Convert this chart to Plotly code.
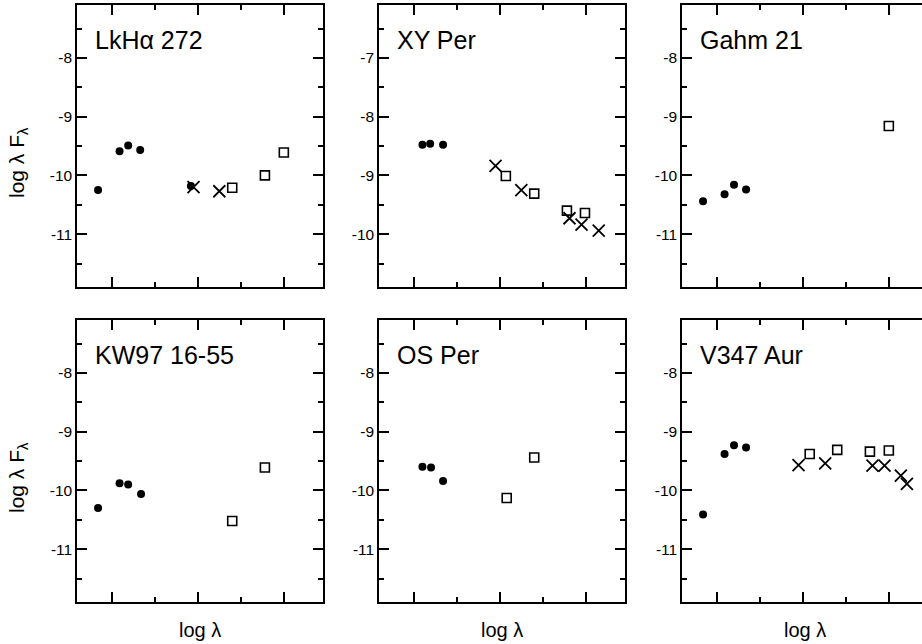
import plotly.graph_objects as go

W, H = 922, 644
FONT = "Liberation Sans, Arial, Helvetica, sans-serif"

# ---- spectral energy distributions (log lambda [um], log lambda F_lambda) ----
# LkHα 272
lkha_dot_x = [-0.16, 0.09, 0.19, 0.33, 0.92]
lkha_dot_y = [-10.25, -9.59, -9.49, -9.57, -10.18]
lkha_cross_x = [0.95, 1.25]
lkha_cross_y = [-10.20, -10.27]
lkha_sq_x = [1.40, 1.78, 2.00]
lkha_sq_y = [-10.21, -10.00, -9.61]

# XY Per
xyper_dot_x = [0.10, 0.19, 0.34]
xyper_dot_y = [-8.48, -8.46, -8.48]
xyper_cross_x = [0.95, 1.25, 1.81, 1.95, 2.15]
xyper_cross_y = [-8.84, -9.25, -9.73, -9.84, -9.94]
xyper_sq_x = [1.07, 1.40, 1.78, 1.99]
xyper_sq_y = [-9.01, -9.31, -9.60, -9.64]

# Gahm 21
gahm_dot_x = [-0.16, 0.09, 0.20, 0.34]
gahm_dot_y = [-10.44, -10.32, -10.16, -10.24]
gahm_sq_x = [2.00]
gahm_sq_y = [-9.16]

# KW97 16-55
kw97_dot_x = [-0.16, 0.09, 0.19, 0.34]
kw97_dot_y = [-10.30, -9.88, -9.90, -10.06]
kw97_sq_x = [1.40, 1.78]
kw97_sq_y = [-10.52, -9.61]

# OS Per
osper_dot_x = [0.10, 0.20, 0.34]
osper_dot_y = [-9.60, -9.61, -9.84]
osper_sq_x = [1.08, 1.40]
osper_sq_y = [-10.13, -9.44]

# V347 Aur
v347_dot_x = [-0.16, 0.09, 0.20, 0.34]
v347_dot_y = [-10.41, -9.38, -9.23, -9.27]
v347_cross_x = [0.95, 1.26, 1.81, 1.95, 2.14, 2.21]
v347_cross_y = [-9.57, -9.54, -9.58, -9.58, -9.75, -9.89]
v347_sq_x = [1.08, 1.40, 1.78, 2.00]
v347_sq_y = [-9.38, -9.31, -9.34, -9.32]

panel_names = ["LkHα 272", "XY Per", "Gahm 21", "KW97 16-55", "OS Per", "V347 Aur"]

# y tick labels per panel
yticks_default = [-11, -10, -9, -8]
yticklabels_default = ["-11", "-10", "-9", "-8"]
yticks_xyper = [-10, -9, -8, -7]
yticklabels_xyper = ["-10", "-9", "-8", "-7"]

x_title = "log λ"
y_title = "log λ F<sub>λ</sub>"

panels = [
    (lkha_dot_x, lkha_dot_y, lkha_cross_x, lkha_cross_y, lkha_sq_x, lkha_sq_y),
    (xyper_dot_x, xyper_dot_y, xyper_cross_x, xyper_cross_y, xyper_sq_x, xyper_sq_y),
    (gahm_dot_x, gahm_dot_y, [], [], gahm_sq_x, gahm_sq_y),
    (kw97_dot_x, kw97_dot_y, [], [], kw97_sq_x, kw97_sq_y),
    (osper_dot_x, osper_dot_y, [], [], osper_sq_x, osper_sq_y),
    (v347_dot_x, v347_dot_y, v347_cross_x, v347_cross_y, v347_sq_x, v347_sq_y),
]

# panel frames in pixels
col_px = [(77, 323), (379, 625), (682, 922)]
row_px = [(5, 287), (320, 602)]
x_unit = 86.0  # pixels per unit of log lambda
x_lo = -0.405

fig = go.Figure()

for i, (dx, dy, cx, cy, sx, sy) in enumerate(panels):
    n = "" if i == 0 else str(i + 1)
    xa, ya = "x" + n, "y" + n
    fig.add_trace(go.Scatter(x=dx, y=dy, mode="markers", xaxis=xa, yaxis=ya,
                             marker=dict(symbol="circle", size=8, color="black"),
                             showlegend=False))
    if cx:
        fig.add_trace(go.Scatter(x=cx, y=cy, mode="markers", xaxis=xa, yaxis=ya,
                                 marker=dict(symbol="x-thin-open", size=12, color="black",
                                             line=dict(color="black", width=1.8)),
                                 showlegend=False))
    fig.add_trace(go.Scatter(x=sx, y=sy, mode="markers", xaxis=xa, yaxis=ya,
                             marker=dict(symbol="square-open", size=9, color="black",
                                         line=dict(color="black", width=1.6)),
                             showlegend=False))

    r, c = divmod(i, 3)
    x0, x1 = col_px[c]
    y0, y1 = row_px[r]
    x_hi = x_lo + (x1 - x0) / x_unit
    if i == 1:
        yr, tv, tt = [-10.9, -6.1], yticks_xyper, yticklabels_xyper
    else:
        yr, tv, tt = [-11.9, -7.1], yticks_default, yticklabels_default

    axis_common = dict(showgrid=False, zeroline=False, showline=True,
                       linecolor="black", linewidth=1.5,
                       ticks="inside", ticklen=10, tickwidth=1.5, tickcolor="black")
    fig.layout["xaxis" + n] = dict(
        domain=[x0 / W, x1 / W], range=[x_lo, x_hi], anchor=ya,
        mirror="ticks", tickmode="array", tickvals=[0, 1, 2],
        showticklabels=False,
        minor=dict(ticks="inside", ticklen=5, tickwidth=1.5, tickcolor="black",
                   tickmode="array", tickvals=[0.5, 1.5]),
        **axis_common)
    fig.layout["yaxis" + n] = dict(
        domain=[1 - y1 / H, 1 - y0 / H], range=yr, anchor=xa,
        mirror=("ticks" if c < 2 else False),
        tickmode="array", tickvals=tv, ticktext=tt,
        tickfont=dict(family=FONT, size=15.5, color="black"),
        minor=dict(ticks="inside", ticklen=5, tickwidth=1.5, tickcolor="black",
                   tickmode="array", tickvals=[v + 0.5 for v in tv] + [tv[0] - 0.5]),
        **axis_common)

    # panel name
    fig.add_annotation(text=panel_names[i], xref="paper", yref="paper",
                       x=(x0 + 16) / W, y=1 - (y0 + 35) / H,
                       xanchor="left", yanchor="middle", showarrow=False,
                       font=dict(family=FONT, size=25, color="black"))

# axis titles
for c in range(3):
    x0, x1 = col_px[c]
    cx = (x0 + x0 + 246) / 2
    fig.add_annotation(text=x_title, xref="paper", yref="paper",
                       x=cx / W, y=1 - 630 / H, xanchor="center", yanchor="middle",
                       showarrow=False, font=dict(family=FONT, size=20, color="black"))
for r in range(2):
    y0, y1 = row_px[r]
    fig.add_annotation(text=y_title, xref="paper", yref="paper",
                       x=18 / W, y=1 - ((y0 + y1) / 2 + 17) / H, xanchor="center",
                       yanchor="middle", textangle=-90, showarrow=False,
                       font=dict(family=FONT, size=21, color="black"))

fig.update_layout(width=W, height=H, margin=dict(l=0, r=0, t=0, b=0),
                  plot_bgcolor="white", paper_bgcolor="white",
                  font=dict(family=FONT, color="black"))

fig.write_html("out.html")
